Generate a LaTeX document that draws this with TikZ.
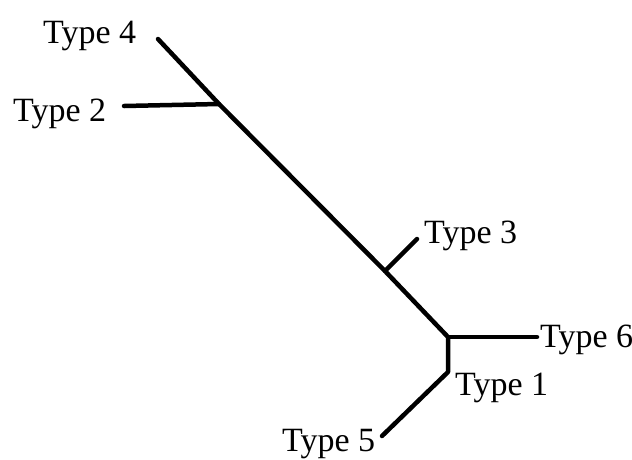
\documentclass[tikz,border=0pt]{standalone}
\usepackage{fontspec}
\setmainfont{Liberation Serif}
\begin{document}
\begin{tikzpicture}[x=1pt,y=-1pt,
  branch/.style={line width=4.5pt,line cap=round,line join=round},
  leaf/.style={inner sep=0pt,anchor=base west,font=\fontsize{34}{38}\selectfont}]
\useasboundingbox (0,0) rectangle (632,459);
% tree vertices
\coordinate (v4) at (158,39);
\coordinate (j2) at (219,104);
\coordinate (v2) at (124,106);
\coordinate (j3) at (385,271);
\coordinate (v3) at (417,239);
\coordinate (j6) at (448,337);
\coordinate (v6) at (537,337);
\coordinate (j1) at (448,372);
\coordinate (v5) at (382,436);
% labels
\node[leaf] (t4) at (43,43) {Type 4};
\node[leaf] (t2) at (13,121) {Type 2};
\node[leaf] (t3) at (424,243) {Type 3};
\node[leaf] (t6) at (540,347) {Type 6};
\node[leaf] (t1) at (455,395) {Type 1};
\node[leaf] (t5) at (282,451) {Type 5};
% edges
\draw[branch] (v4) -- (j2) -- (j3) -- (j6) -- (j1) -- (v5);
\draw[branch] (j2) -- (v2);
\draw[branch] (j3) -- (v3);
\draw[branch] (j6) -- (v6);
\end{tikzpicture}
\end{document}
